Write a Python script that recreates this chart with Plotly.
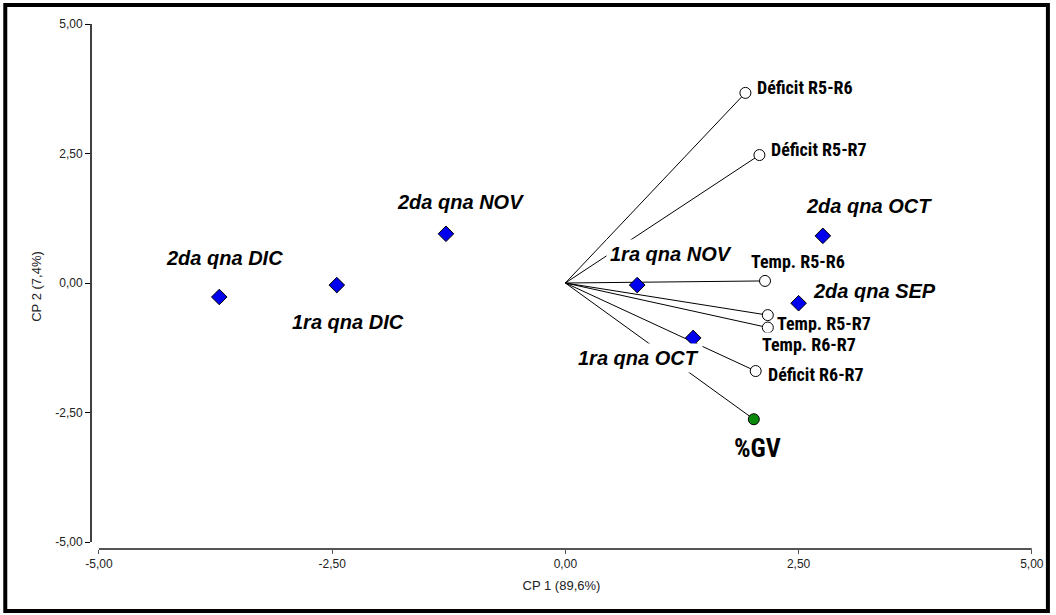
import plotly.graph_objects as go

# observations (quincenas) - scores on CP1 / CP2
obj_names = ["2da qna DIC", "1ra qna DIC", "2da qna NOV", "1ra qna NOV",
             "1ra qna OCT", "2da qna OCT", "2da qna SEP"]
obj_cp1 = [-3.71, -2.45, -1.28, 0.77, 1.37, 2.76, 2.50]
obj_cp2 = [-0.27, -0.04, 0.95, -0.04, -1.06, 0.91, -0.39]

# variables (loadings)
var_names = ["Déficit R5-R6", "Déficit R5-R7", "Temp. R5-R6",
             "Temp. R5-R7", "Temp. R6-R7", "Déficit R6-R7"]
var_cp1 = [1.93, 2.08, 2.14, 2.17, 2.17, 2.04]
var_cp2 = [3.67, 2.47, 0.04, -0.62, -0.86, -1.70]

resp_name = "%GV"
resp_cp1 = 2.02
resp_cp2 = -2.63

tick_vals = [-5, -2.5, 0, 2.5, 5]
tick_text = ["-5,00", "-2,50", "0,00", "2,50", "5,00"]

# label offsets in pixels (x right, y up)
obj_offsets = {
    "2da qna DIC": (5, 39), "1ra qna DIC": (11, -37), "2da qna NOV": (15, 32),
    "1ra qna NOV": (34, 31), "1ra qna OCT": (-55, -20), "2da qna OCT": (46, 30),
    "2da qna SEP": (76, 12),
}
var_offsets = {
    "Déficit R5-R6": (60, 5), "Déficit R5-R7": (60, 6), "Temp. R5-R6": (33, 19),
    "Temp. R5-R7": (56, -8), "Temp. R6-R7": (41, -17), "Déficit R6-R7": (60, -3),
}
resp_offset = (4, -29)

narrow = "Liberation Sans Narrow, Roboto Condensed, Arial Narrow, Liberation Sans"

fig = go.Figure()

# vectors from the origin
lx, ly = [], []
for x, y in zip(var_cp1 + [resp_cp1], var_cp2 + [resp_cp2]):
    lx += [0, x, None]
    ly += [0, y, None]
fig.add_trace(go.Scatter(x=lx, y=ly, mode="lines",
                         line=dict(color="black", width=1), hoverinfo="skip"))

fig.add_trace(go.Scatter(
    x=var_cp1, y=var_cp2, mode="markers", text=var_names,
    marker=dict(symbol="circle", size=11, color="white",
                line=dict(color="black", width=1))))

fig.add_trace(go.Scatter(
    x=[resp_cp1], y=[resp_cp2], mode="markers", text=[resp_name],
    marker=dict(symbol="circle", size=11, color="#0a8a0a",
                line=dict(color="black", width=1))))

fig.add_trace(go.Scatter(
    x=obj_cp1, y=obj_cp2, mode="markers", text=obj_names,
    marker=dict(symbol="diamond", size=12, color="#0000ee",
                line=dict(color="black", width=1))))

for n, x, y in zip(obj_names, obj_cp1, obj_cp2):
    dx, dy = obj_offsets[n]
    fig.add_annotation(x=x, y=y, text=n, showarrow=False, xshift=dx, yshift=dy,
                       bgcolor="white", borderpad=3,
                       font=dict(family="Liberation Sans", size=20, color="black",
                                 weight="bold", style="italic"))

for n, x, y in zip(var_names, var_cp1, var_cp2):
    dx, dy = var_offsets[n]
    fig.add_annotation(x=x, y=y, text=n, showarrow=False, xshift=dx, yshift=dy,
                       bgcolor="white", borderpad=1,
                       font=dict(family=narrow, size=18, color="black", weight="bold"))

fig.add_annotation(x=resp_cp1, y=resp_cp2, text=resp_name, showarrow=False,
                   xshift=resp_offset[0], yshift=resp_offset[1], bgcolor="white",
                   font=dict(family=narrow, size=26, color="black", weight="bold"))

# axis lines (drawn by hand: they don't meet at the corner)
fig.add_shape(type="line", xref="paper", x0=0, x1=0, yref="y", y0=-5, y1=5,
              line=dict(color="black", width=1.5))
fig.add_shape(type="line", xref="x", x0=-5, x1=5, yref="paper", y0=0, y1=0,
              line=dict(color="#555555", width=2))
# outer frame
fig.add_shape(type="rect", xref="paper", yref="paper",
              x0=-0.0911, x1=1.0169, y0=-0.1181, y1=1.0362,
              line=dict(color="black", width=4))

fig.update_xaxes(range=[-5.085, 5.002], tickvals=tick_vals, ticktext=tick_text,
                 showgrid=False, zeroline=False, showline=False,
                 ticks="outside", ticklen=4, tickcolor="#555555",
                 tickfont=dict(family="Liberation Sans", size=12, color="#222"),
                 title=dict(text="CP 1 (89,6%)", standoff=10,
                            font=dict(family="Liberation Sans", size=13, color="#222")))
fig.update_yaxes(range=[-5.135, 5.0], tickvals=tick_vals, ticktext=tick_text,
                 showgrid=False, zeroline=False, showline=False,
                 ticks="outside", ticklen=5, tickcolor="black",
                 tickfont=dict(family="Liberation Sans", size=12, color="#222"),
                 title=dict(text="CP 2 (7,4%)", standoff=10,
                            font=dict(family="Liberation Sans", size=13, color="#222")))

fig.update_layout(
    width=1056, height=615,
    margin=dict(l=91, r=21, t=24, b=66),
    plot_bgcolor="white", paper_bgcolor="white",
    showlegend=False,
)

fig.write_html("out.html", config={"displayModeBar": False},
               post_script="document.body.style.margin='0';"
               "document.body.style.overflow='hidden';")
